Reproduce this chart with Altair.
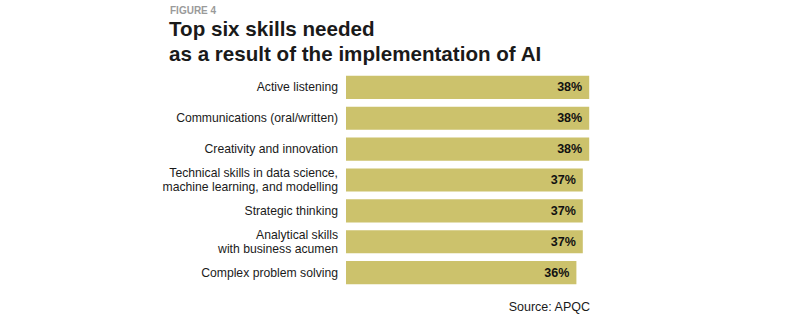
import altair as alt
import pandas as pd

skills = [
    "Active listening",
    "Communications (oral/written)",
    "Creativity and innovation",
    "Technical skills in data science, machine learning, and modelling",
    "Strategic thinking",
    "Analytical skills with business acumen",
    "Complex problem solving",
]
skill_lines = [
    ["Active listening"],
    ["Communications (oral/written)"],
    ["Creativity and innovation"],
    ["Technical skills in data science,", "machine learning, and modelling"],
    ["Strategic thinking"],
    ["Analytical skills", "with business acumen"],
    ["Complex problem solving"],
]
values = [38, 38, 38, 37, 37, 37, 36]
value_labels = ["38%", "38%", "38%", "37%", "37%", "37%", "36%"]

title_lines = ["Top six skills needed", "as a result of the implementation of AI"]
figure_label = "FIGURE 4"
source_text = "Source: APQC"

df = pd.DataFrame({"skill": skills, "value": values, "label": value_labels})

rows = []
for s, lines in zip(skills, skill_lines):
    if len(lines) == 1:
        rows.append({"skill": s, "text": lines[0], "pos": "only"})
    else:
        rows.append({"skill": s, "text": lines[0], "pos": "top"})
        rows.append({"skill": s, "text": lines[1], "pos": "bottom"})
lines_df = pd.DataFrame(rows)

FONT = "Liberation Sans"
W, H = 256, 216
LEFT, TOP = 346, 72

y_enc = alt.Y(
    "skill:N",
    sort=skills,
    scale=alt.Scale(paddingInner=0.25, paddingOuter=0.125),
    axis=None,
)
x_enc = alt.X("value:Q", scale=alt.Scale(domain=[0, 40]), axis=None)

base = alt.Chart(df)
bars = base.mark_bar(color="#CCC26C").encode(x=x_enc, y=y_enc)
labels = base.mark_text(
    align="right", baseline="middle", dx=-7, fontSize=12.5, fontWeight="bold",
    font=FONT, color="#111111",
).encode(x=x_enc, y=alt.Y("skill:N", sort=skills), text="label:N")

cat_layers = []
for pos, dy in [("only", 0), ("top", -7), ("bottom", 7)]:
    cat_layers.append(
        alt.Chart(lines_df).transform_filter(alt.datum.pos == pos).mark_text(
            align="right", baseline="middle", dx=-8, dy=dy, fontSize=12.2,
            font=FONT, color="#1a1a1a",
        ).encode(x=alt.value(0), y=alt.Y("skill:N", sort=skills), text="text:N")
    )

ann = pd.DataFrame({"dummy": [0]})
fig = alt.Chart(ann).mark_text(
    text=figure_label, align="left", baseline="alphabetic", fontSize=10,
    fontWeight="bold", font=FONT, color="#9a9a9a",
).encode(x=alt.value(170 - LEFT), y=alt.value(13.5 - TOP))
ttl = alt.Chart(ann).mark_text(
    text=title_lines, align="left", baseline="alphabetic", fontSize=20.6,
    fontWeight="bold", font=FONT, color="#1a1a1a", lineHeight=24.5,
).encode(x=alt.value(169 - LEFT), y=alt.value(36 - TOP))
src = alt.Chart(ann).mark_text(
    text=source_text, align="right", baseline="alphabetic", fontSize=12.5,
    font=FONT, color="#1a1a1a",
).encode(x=alt.value(590 - LEFT), y=alt.value(311 - TOP))

chart = alt.layer(bars, labels, *cat_layers, fig, ttl, src).properties(
    width=W, height=H,
    background="white",
    autosize=alt.AutoSizeParams(type="none"),
    padding={"left": LEFT, "top": TOP, "right": 800 - LEFT - W, "bottom": 328 - TOP - H},
).configure_view(stroke=None)

chart.save("out.html", embed_options={"renderer": "svg", "actions": False})
